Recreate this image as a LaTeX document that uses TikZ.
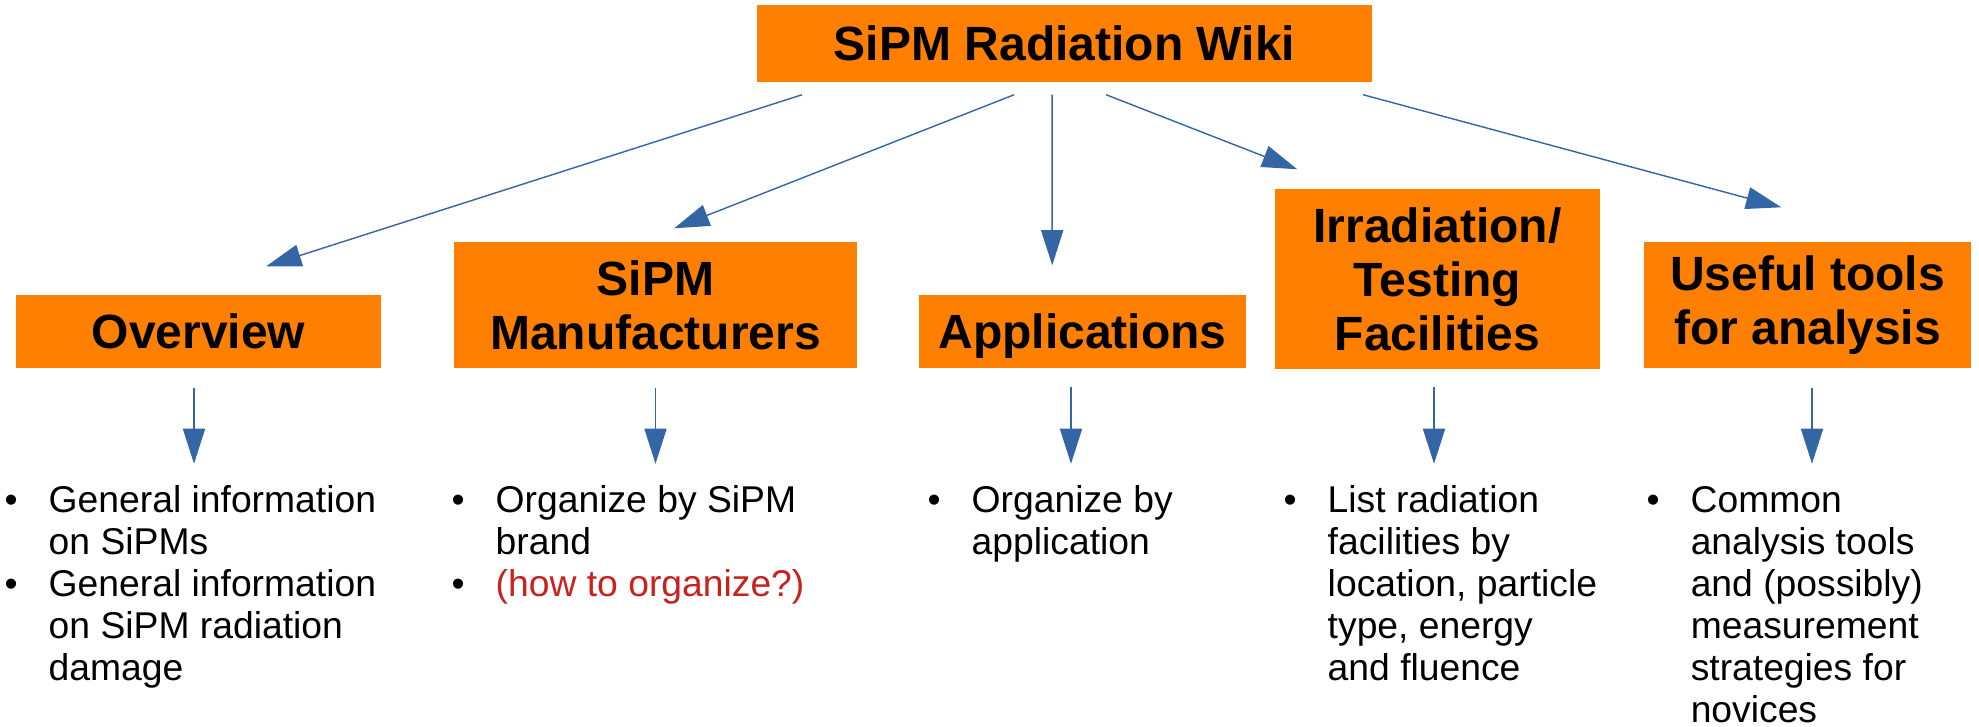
\documentclass[tikz,border=0pt]{standalone}
\usepackage{fontspec}
\setmainfont{Liberation Sans}
\usetikzlibrary{arrows.meta}

\definecolor{boxOrange}{HTML}{FF8000}
\definecolor{arrowBlue}{HTML}{3465A4}
\definecolor{noteRed}{HTML}{C9211E}

\newcommand{\bul}{\makebox[0.44cm][l]{\textbullet}}
\newcommand{\ind}{\hspace*{0.44cm}}

\begin{document}
\begin{tikzpicture}[x=0.01cm,y=-0.01cm,->,>={Triangle[length=10pt,width=6.3pt]},
                    draw=arrowBlue,line width=0.4pt,
   box/.style={fill=boxOrange,inner sep=0pt,align=center,
               font=\fontsize{13.66}{15.4}\selectfont\bfseries},
   list/.style={anchor=base west,inner sep=0pt,
                font=\fontsize{10.6}{11.95}\selectfont}]
   \useasboundingbox (0,0) rectangle (1979,726);

   \node[box,minimum width=6.15cm,minimum height=0.77cm] (title) at (1064.5,43.5) {SiPM Radiation Wiki};
   \node[box,minimum width=3.65cm,minimum height=0.73cm] (overview) at (198.5,331.5) {Overview};
   \node[box,minimum width=4.03cm,minimum height=1.26cm] (manufacturers) at (655.5,305) {SiPM\\Manufacturers};
   \node[box,minimum width=3.27cm,minimum height=0.73cm,text depth=0pt] (applications) at (1082.5,331.5) {Applications};
   \node[box,minimum width=3.25cm,minimum height=1.80cm] (irradiation) at (1437.5,279) {Irradiation/\\Testing\\Facilities};
   \node[box,minimum width=3.27cm,minimum height=1.26cm] (usefulTools) at (1807.5,305) {Useful tools\\for analysis};

   \node[list] (overviewList) at (4,512) {\begin{tabular}[t]{@{}l@{}}
      \bul General information\\ \ind on SiPMs\\
      \bul General information\\ \ind on SiPM radiation\\ \ind damage\end{tabular}};
   \node[list] (manufacturersList) at (451,512) {\begin{tabular}[t]{@{}l@{}}
      \bul Organize by SiPM\\ \ind brand\\
      \bul\textcolor{noteRed}{(how to organize?)}\end{tabular}};
   \node[list] (applicationsList) at (927,512) {\begin{tabular}[t]{@{}l@{}}
      \bul Organize by\\ \ind application\end{tabular}};
   \node[list] (irradiationList) at (1283,512) {\begin{tabular}[t]{@{}l@{}}
      \bul List radiation\\ \ind facilities by\\ \ind location, particle\\
      \ind type, energy\\ \ind and fluence\end{tabular}};
   \node[list] (usefulToolsList) at (1646,512) {\begin{tabular}[t]{@{}l@{}}
      \bul Common\\ \ind analysis tools\\ \ind and (possibly)\\
      \ind measurement\\ \ind strategies for\\ \ind novices\end{tabular}};

   % from the wiki down to the sections
   \draw ([shift={(46,12)}]title.south west)  -- ([shift={(251,-28)}]overview.north west);
   \draw ([shift={(258,12)}]title.south west) -- ([shift={(221,-13)}]manufacturers.north west);
   \draw ([shift={(296,12)}]title.south west) -- ([shift={(134,-29)}]applications.north west);
   \draw ([shift={(350,12)}]title.south west) -- ([shift={(23,-19)}]irradiation.north west);
   \draw ([shift={(607,12)}]title.south west) -- ([shift={(138,-34)}]usefulTools.north west);

   % from the sections down to their lists
   \draw ([shift={(-4.5,19)}]overview.south) -- ++(0,76);
   \draw ([shift={(0,19)}]manufacturers.south) -- ++(0,76);
   \draw ([shift={(-11.5,18)}]applications.south) -- ++(0,77);
   \draw ([shift={(-3.5,17)}]irradiation.south) -- ++(0,77);
   \draw ([shift={(4.5,19)}]usefulTools.south) -- ++(0,76);
\end{tikzpicture}
\end{document}
